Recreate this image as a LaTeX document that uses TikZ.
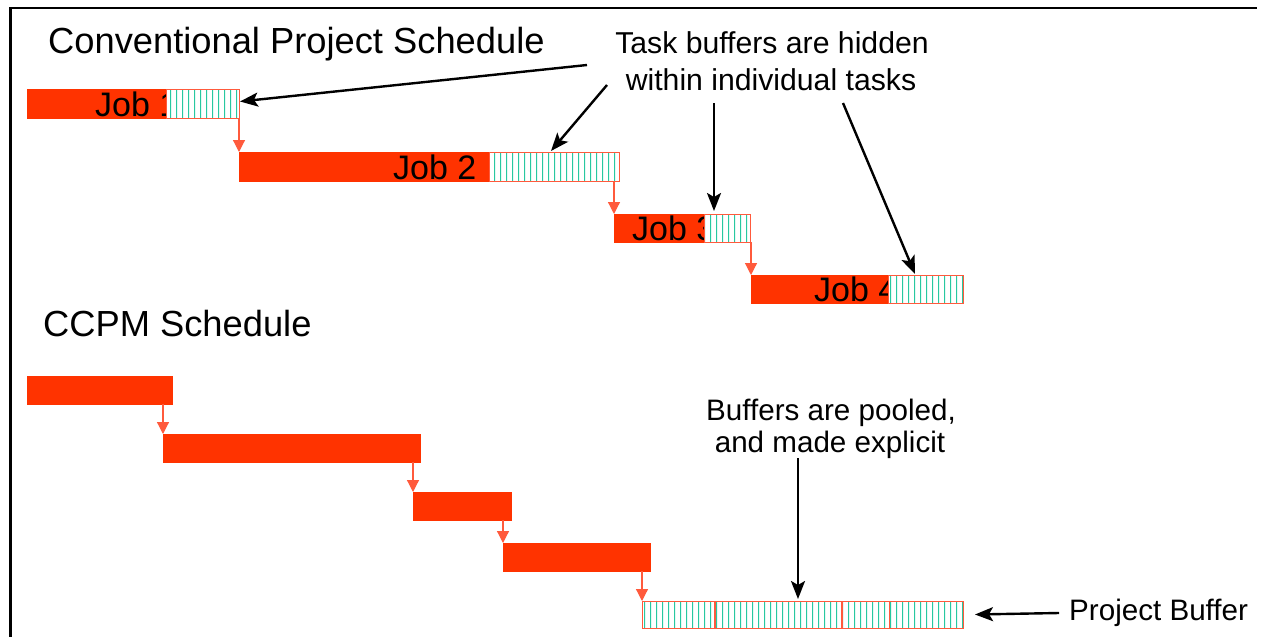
\documentclass[tikz,border=0pt]{standalone}
\usepackage{fontspec}
\setmainfont{Liberation Sans}
\usetikzlibrary{arrows.meta,patterns.meta}

\definecolor{barred}{RGB}{255,51,0}
\definecolor{edgered}{RGB}{255,90,60}
\definecolor{hatchgreen}{RGB}{40,200,160}

% vertical hatching used for the buffers
\tikzdeclarepattern{
  name=bufhatch,
  type=uncolored,
  bounding box={(0pt,0pt) and (6pt,6pt)},
  tile size={(6pt,6pt)},
  code={\draw[line width=1.1pt,line cap=rect] (3pt,0pt) -- (3pt,6pt);}
}

\begin{document}
\begin{tikzpicture}[x=1pt,y=-1pt,
  bar/.style={draw=barred, fill=barred, inner sep=0pt, outer sep=0pt,
    anchor=north west, minimum height=#1},
  bar/.default=29pt,
  bufbox/.style={draw=edgered, line width=1pt, preaction={fill=white},
    pattern=bufhatch, pattern color=hatchgreen, inner sep=0pt, outer sep=0pt,
    anchor=north west, minimum height=#1},
  bufbox/.default=29pt,
  joblabel/.style={anchor=base west, inner sep=0pt, font=\fontsize{34}{40}\selectfont},
  heading/.style={anchor=base west, inner sep=0pt, font=\fontsize{36.3}{42}\selectfont},
  note/.style={anchor=base, inner sep=0pt, font=\fontsize{29.6}{35}\selectfont},
  link/.style={draw=edgered, line width=1.2pt, -{Triangle[length=12pt,width=12pt]}},
  callout/.style={draw=black, line width=2.4pt, -{Stealth[length=18pt,width=14pt,inset=4pt]}},
]
\useasboundingbox (0,0) rectangle (1266,637);
\fill[white] (0,0) rectangle (1266,637);

% frame
\draw[line width=2.5pt] (10.5,637) -- (10.5,8) -- (1257,8);

% headings
\node[heading] (conv) at (48,53) {Conventional Project Schedule};
\node[heading] (ccpm) at (43,336) {CCPM Schedule};

% conventional schedule: job bars with hidden buffers
\node[bar, minimum width=139pt] (j1) at (27,89) {};
\node[joblabel] (j1t) at (95,116) {Job 1};
\node[bufbox, minimum width=73pt] (j1b) at (166,89) {};

\node[bar, minimum width=250pt] (j2) at (239,152) {};
\node[joblabel] (j2t) at (393,179) {Job 2};
\node[bufbox, minimum width=130pt] (j2b) at (489,152) {};

\node[bar=28pt, minimum width=90pt] (j3) at (614,214) {};
\node[joblabel] (j3t) at (632,240) {Job 3};
\node[bufbox=28pt, minimum width=46pt] (j3b) at (704,214) {};

\node[bar=28pt, minimum width=137pt] (j4) at (751,275) {};
\node[joblabel] (j4t) at (814,301) {Job 4};
\node[bufbox=28pt, minimum width=75pt] (j4b) at (888,275) {};

\draw[link] (j1b.south east) -- (j2.north west);
\draw[link] (j3.north west |- j2b.south) -- (j3.north west);
\draw[link] (j4.north west |- j3b.south) -- (j4.north west);

% CCPM schedule: bare tasks and one pooled buffer
\node[bar=28pt, minimum width=145pt] (c1) at (27,376) {};
\node[bar=28pt, minimum width=257pt] (c2) at (163,434) {};
\node[bar=28pt, minimum width=98pt] (c3) at (413,492) {};
\node[bar=28pt, minimum width=147pt] (c4) at (503,543) {};
\node[bufbox=27pt, minimum width=321pt] (pb) at (642,601) {};
\draw[edgered, line width=2pt] ([xshift=73pt]pb.north west) -- ([xshift=73pt]pb.south west);
\draw[edgered, line width=2pt] ([xshift=200pt]pb.north west) -- ([xshift=200pt]pb.south west);
\draw[edgered, line width=1pt] ([xshift=247pt]pb.north west) -- ([xshift=247pt]pb.south west);

\draw[link] (c2.north west |- c1.south) -- (c2.north west);
\draw[link] (c3.north west |- c2.south) -- (c3.north west);
\draw[link] (c4.north west |- c3.south) -- (c4.north west);
\draw[link] (pb.north west |- c4.south) -- (pb.north west);

% annotations
\node[note, font=\fontsize{30.2}{35}\selectfont] (n1a) at (772,53) {Task buffers are hidden};
\node[note, font=\fontsize{30.2}{35}\selectfont] (n1b) at (771,90) {within individual tasks};
\node[note] (n2a) at (831,420) {Buffers are pooled,};
\node[note] (n2b) at (830,452) {and made explicit};
\node[note, anchor=base west] (n3) at (1069,620) {Project Buffer};

\coordinate (s1) at (587,65);
\coordinate (s2) at (607,85);
\coordinate (s3) at (714,103);
\coordinate (s4) at (843,103);
\coordinate (s5) at (798,458);
\coordinate (s6) at (1059,613);

\draw[callout] (s1) -- ([xshift=1pt,yshift=2pt]j1b.east);
\draw[callout] (s2) -- ([xshift=62pt,yshift=1pt]j2b.north west);
\draw[callout] (s3) -- ([xshift=10pt,yshift=3pt]j3b.north west);
\draw[callout] (s4) -- ([xshift=27pt,yshift=1pt]j4b.north west);
\draw[callout] (s5) -- ([xshift=156pt,yshift=2pt]pb.north west);
\draw[callout] (s6) -- ([xshift=12pt]pb.east);
\end{tikzpicture}
\end{document}
